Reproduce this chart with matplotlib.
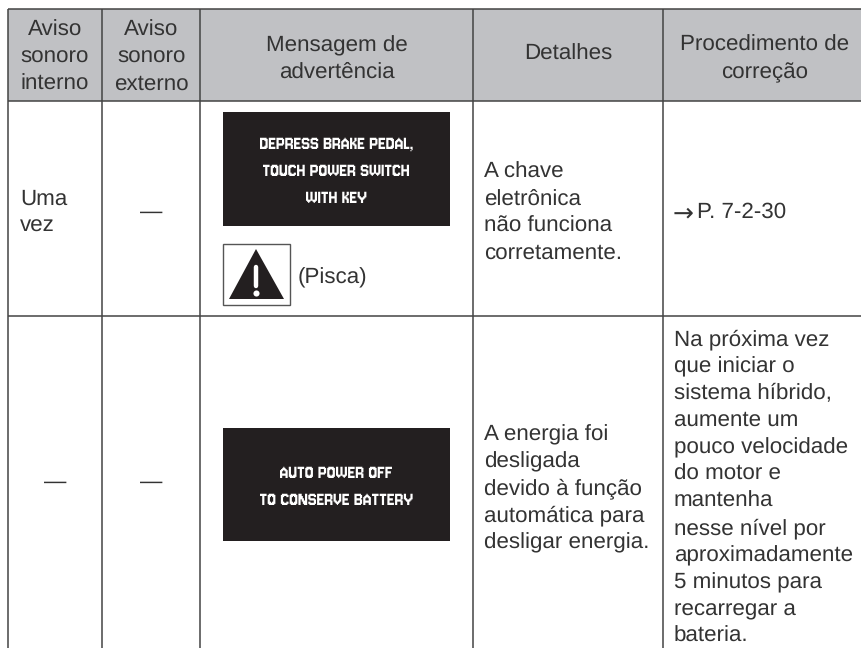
import matplotlib.pyplot as plt
from matplotlib.patches import Rectangle, Polygon

plt.rcParams['text.hinting'] = 'none'

# textos da tabela
cabecalho = ['Aviso\nsonoro\ninterno', 'Aviso\nsonoro\nexterno', 'Mensagem de\nadvertência',
             'Detalhes', 'Procedimento de\ncorreção']
linha1_interno = 'Uma\nvez'
linha1_externo = '—'
linha1_tela = 'DEPRESS BRAKE PEDAL,\nTOUCH POWER SWITCH\nWITH KEY'
linha1_pisca = '(Pisca)'
linha1_detalhes = 'A chave\neletrônica\nnão funciona\ncorretamente.'
linha1_seta = '→'
linha1_correcao = 'P. 7-2-30'
linha2_interno = '—'
linha2_externo = '—'
linha2_tela = 'AUTO POWER OFF\nTO CONSERVE BATTERY'
linha2_detalhes = 'A energia foi\ndesligada\ndevido à função\nautomática para\ndesligar energia.'
linha2_correcao = ('Na próxima vez\nque iniciar o\nsistema híbrido,\naumente um\npouco velocidade\n'
                   'do motor e\nmantenha\nnesse nível por\naproximadamente\n5 minutos para\n'
                   'recarregar a\nbateria.')

# geometria em pixels
colunas = [8, 102, 200.5, 473, 663, 862]
topo, fim_cab, meio, base = 9, 101, 316, 648
COR_TEXTO = '#333333'
COR_LINHA = '#444444'
COR_TELA = '#231f20'
FONTE = 'Liberation Sans'
FONTE_TELA = ['Jersey 10', 'Liberation Sans']
TAM = 16.1
ESP = 27


def escreve(x, y_base, texto, ha='left'):
    # escreve linha a linha, y_base e a linha de base da primeira linha
    for i, t in enumerate(texto.split('\n')):
        ax.text(x, y_base + i * ESP, t, ha=ha, va='baseline', family=FONTE, fontsize=TAM, color=COR_TEXTO)


def tela(x0, x1, y0, y1, texto, y_base):
    ax.add_patch(Rectangle((x0, y0), x1 - x0, y1 - y0, fc=COR_TELA, ec='none'))
    for i, t in enumerate(texto.split('\n')):
        ax.text((x0 + x1) / 2, y_base + i * 27, t, ha='center', va='baseline', color='white',
                family=FONTE_TELA, fontsize=14.8)


fig = plt.figure(figsize=(8.62, 6.48), dpi=100)
ax = fig.add_axes([0, 0, 1, 1])
ax.set_xlim(0, 862)
ax.set_ylim(648, 0)
ax.axis('off')

# cabeçalho
ax.add_patch(Rectangle((colunas[0], topo), colunas[-1] - colunas[0], fim_cab - topo, fc='#c0c1c4', ec='none'))
base_cab = [36, 36, 51, 60, 51]
for i, t in enumerate(cabecalho):
    escreve((colunas[i] + colunas[i + 1]) / 2 + (2 if i == 4 else 0), base_cab[i], t, ha='center')

# grade
for y in [topo, fim_cab, meio]:
    ax.plot([colunas[0], colunas[-1]], [y, y], color=COR_LINHA, lw=1.1, solid_capstyle='butt')
for x in colunas[:-1]:
    ax.plot([x, x], [topo, base], color=COR_LINHA, lw=1.1, solid_capstyle='butt')

# primeira linha
escreve(20, 205, linha1_interno)
escreve((colunas[1] + colunas[2]) / 2, 218, linha1_externo, ha='center')
tela(223, 450, 112, 226, linha1_tela, 149)
ax.add_patch(Rectangle((223, 244), 67, 61, fc='white', ec='#555555', lw=1.0))
ax.add_patch(Polygon([(256, 249), (284, 299), (229, 299)], fc=COR_TELA, ec='none'))
ax.plot([256, 256], [267, 286], color='white', lw=3.2, solid_capstyle='round')
ax.plot([256], [293], 'o', color='white', ms=4.4, mec='none')
escreve(298, 283, linha1_pisca)
escreve(484, 178, linha1_detalhes)
ax.text(673, 220, linha1_seta, ha='left', va='baseline', family='DejaVu Sans', fontsize=18, color=COR_TEXTO)
escreve(697, 218, linha1_correcao)

# segunda linha
escreve((colunas[0] + colunas[1]) / 2, 488, linha2_interno, ha='center')
escreve((colunas[1] + colunas[2]) / 2, 488, linha2_externo, ha='center')
tela(223, 450, 428, 541, linha2_tela, 478)
escreve(484, 440, linha2_detalhes)
escreve(674, 345, linha2_correcao)

fig.savefig('out.png', dpi=100)
